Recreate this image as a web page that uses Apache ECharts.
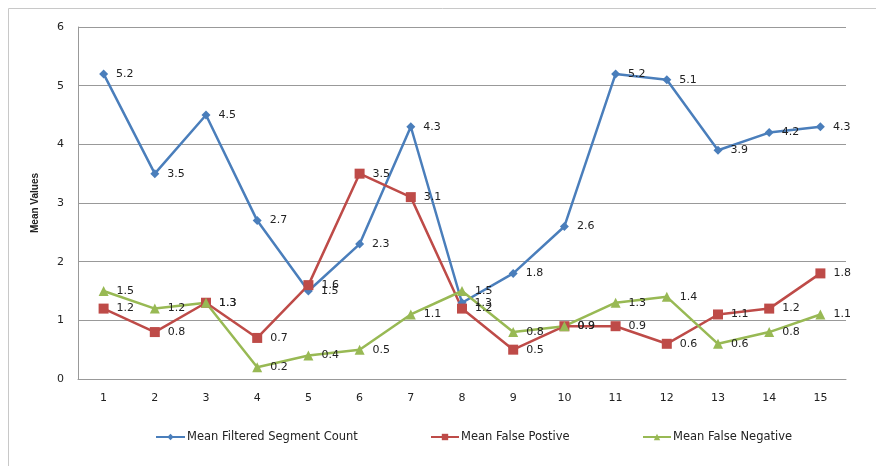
<!DOCTYPE html>
<html>
<head>
<meta charset="utf-8">
<script src="https://cdn.jsdelivr.net/npm/echarts@6/dist/echarts.min.js"></script>
<style>
  html, body { margin: 0; padding: 0; background: #fff; }
  #chart { width: 876px; height: 466px; }
</style>
</head>
<body>
<div id="chart"></div>
<script>
const categories = ['1', '2', '3', '4', '5', '6', '7', '8', '9', '10', '11', '12', '13', '14', '15'];
const segmentCount = [5.2, 3.5, 4.5, 2.7, 1.5, 2.3, 4.3, 1.3, 1.8, 2.6, 5.2, 5.1, 3.9, 4.2, 4.3];
const falsePositive = [1.2, 0.8, 1.3, 0.7, 1.6, 3.5, 3.1, 1.2, 0.5, 0.9, 0.9, 0.6, 1.1, 1.2, 1.8];
const falseNegative = [1.5, 1.2, 1.3, 0.2, 0.4, 0.5, 1.1, 1.5, 0.8, 0.9, 1.3, 1.4, 0.6, 0.8, 1.1];

const chart = echarts.init(document.getElementById('chart'));

function lineSeries(name, data, color, symbol, size) {
    return {
        name: name,
        type: 'line',
        data: data,
        symbol: symbol,
        symbolSize: size,
        lineStyle: { color: color, width: 2.5 },
        itemStyle: { color: color },
        label: {
            show: true,
            position: 'right',
            distance: 8,
            color: '#222',
            fontSize: 11,
            fontFamily: 'DejaVu Sans'
        }
    };
}

const legendText = { fontSize: 11.5, color: '#222', fontFamily: 'DejaVu Sans', padding: [0, 0, 0, -3] };

chart.setOption({
    animation: false,
    graphic: [{
        type: 'rect',
        shape: { x: 8.5, y: 8.5, width: 900, height: 500 },
        style: { fill: 'none', stroke: '#c8c8c8', lineWidth: 1 }
    }],
    grid: { left: 78, right: 30, top: 27, bottom: 87 },
    legend: [
        { data: ['Mean Filtered Segment Count'], left: 150, top: 426, itemWidth: 29, itemHeight: 8, textStyle: legendText },
        { data: ['Mean False Postive'], left: 425, top: 426, itemWidth: 28, itemHeight: 8, textStyle: legendText },
        { data: ['Mean False Negative'], left: 637, top: 426, itemWidth: 28, itemHeight: 8, textStyle: legendText }
    ],
    xAxis: {
        type: 'category',
        data: categories,
        boundaryGap: true,
        axisLine: { lineStyle: { color: '#999' } },
        axisTick: { show: false },
        axisLabel: { color: '#222', fontSize: 11, margin: 14, fontFamily: 'DejaVu Sans' }
    },
    yAxis: {
        type: 'value',
        min: 0,
        max: 6,
        interval: 1,
        name: 'Mean Values',
        nameLocation: 'middle',
        nameGap: 38,
        nameTextStyle: { fontWeight: 'bold', fontSize: 10, color: '#222', fontFamily: 'Liberation Sans' },
        axisLine: { show: true, lineStyle: { color: '#999' } },
        axisTick: { show: false },
        splitLine: { lineStyle: { color: '#999' } },
        axisLabel: { color: '#222', fontSize: 11, margin: 14, fontFamily: 'DejaVu Sans' }
    },
    series: [
        lineSeries('Mean Filtered Segment Count', segmentCount, '#4a7ebb', 'diamond', 9),
        lineSeries('Mean False Postive', falsePositive, '#be4b48', 'rect', 10),
        lineSeries('Mean False Negative', falseNegative, '#98b954', 'triangle', 10)
    ]
});
</script>
</body>
</html>
